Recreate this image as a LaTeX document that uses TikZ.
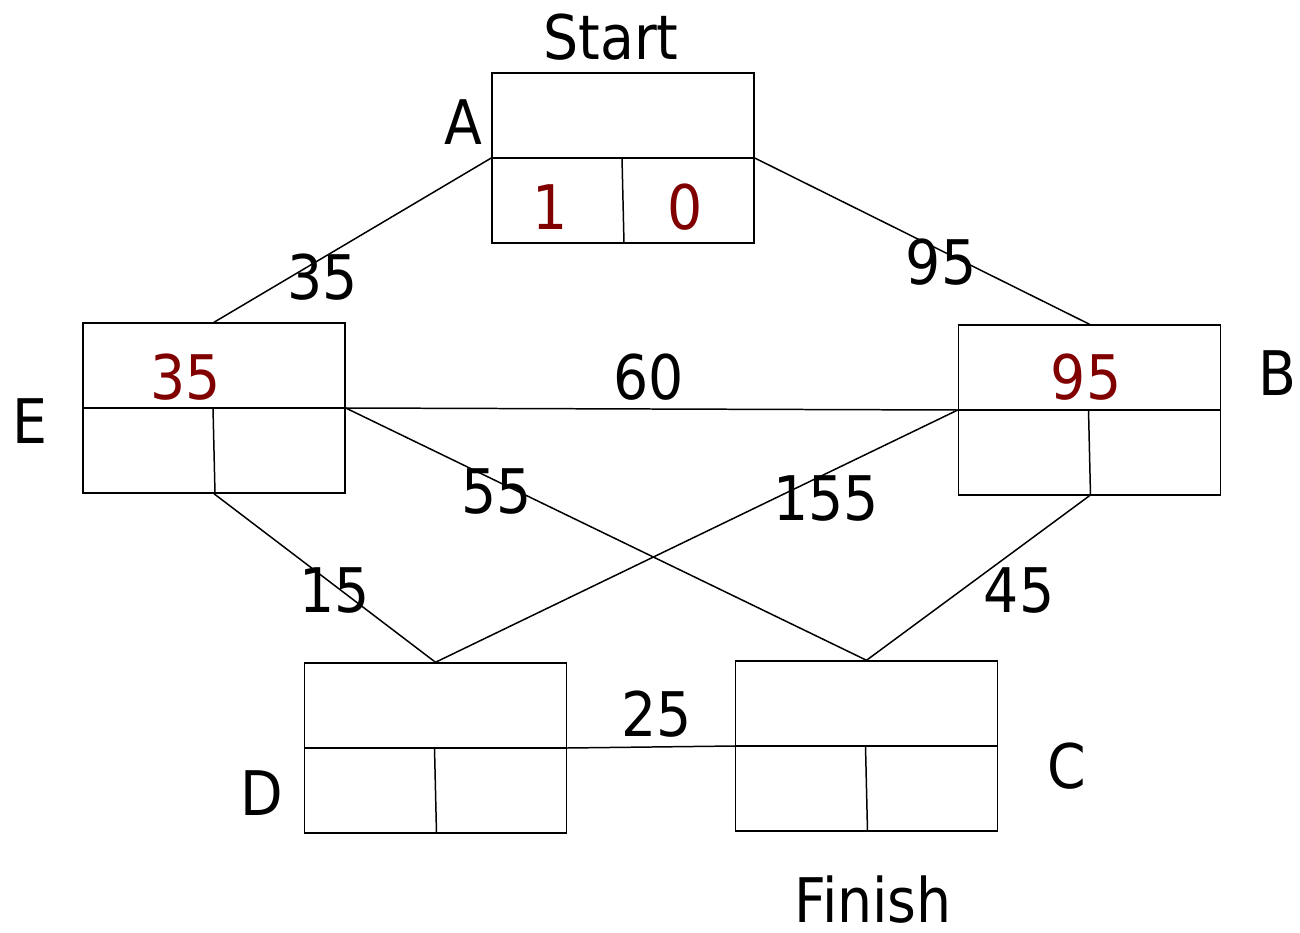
\documentclass[tikz,border=0pt]{standalone}
\usepackage{fontspec}
\setmainfont{DejaVu Sans}[FakeStretch=0.9]
\definecolor{val}{HTML}{800000}
\begin{document}
\begin{tikzpicture}[x=0.02cm,y=-0.02cm,
  box/.style={draw,line width=0.85pt,minimum width=5.24cm,minimum height=3.4cm,inner sep=0pt},
  lbl/.style={font=\fontsize{35}{40}\selectfont,inner sep=0pt},
  val/.style={lbl,text=val},
  edge/.style={line width=0.85pt}]
\useasboundingbox (0,0) rectangle (1300,932);
\node[box] (A) at (623,158) {};
\node[box] (E) at (214,408) {};
\node[box] (B) at (1089.5,410) {};
\node[box] (D) at (435.5,748) {};
\node[box] (C) at (866.5,746) {};
\foreach \n in {A,E,B,D,C}{
  \draw[edge] (\n.west) -- (\n.east);
  \draw[edge] ([xshift=-0.02cm]\n.center) -- ([xshift=0.02cm]\n.south);
}
\draw[edge] (A.west) -- (E.north);
\draw[edge] (A.east) -- (B.north);
\draw[edge] (E.east) -- (B.west);
\draw[edge] (E.east) -- (C.north);
\draw[edge] (B.west) -- (D.north);
\draw[edge] (E.south) -- (D.north);
\draw[edge] (B.south) -- (C.north);
\draw[edge] (D.east) -- (C.west);
\node[lbl] (w1) at (323,277) {35};
\node[lbl] (w2) at (941,262) {95};
\node[lbl] (w3) at (649,377) {60};
\node[lbl] (w4) at (497,492) {55};
\node[lbl] (w5) at (826,499) {155};
\node[lbl] (w6) at (335,591) {15};
\node[lbl] (w7) at (1019,591) {45};
\node[lbl] (w8) at (657,714) {25};
\node[lbl] (lA) at (463,122) {A};
\node[lbl] (lE) at (30,421) {E};
\node[lbl] (lB) at (1277,373) {B};
\node[lbl] (lD) at (262,793) {D};
\node[lbl] (lC) at (1067,766) {C};
\node[lbl] (st) at (611,37) {Start};
\node[lbl] (fi) at (873,900) {Finish};
\node[val] (v1) at (550,207) {1};
\node[val] (v2) at (685,207) {0};
\node[val] (v3) at (186,377) {35};
\node[val] (v4) at (1086,377) {95};
\end{tikzpicture}
\end{document}
